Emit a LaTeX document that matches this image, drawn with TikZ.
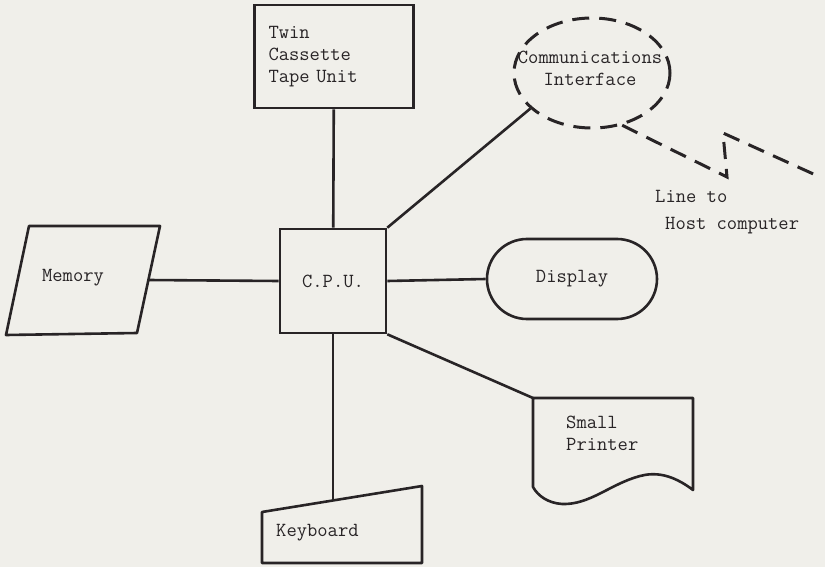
\documentclass[tikz,border=0pt]{standalone}
\usepackage{tikz}
\usetikzlibrary{shapes.geometric}

\definecolor{paper}{RGB}{240,239,234}
\definecolor{ink}{RGB}{40,36,38}

\begin{document}
\begin{tikzpicture}[x=1pt,y=-1pt,
	box/.style={draw=ink, line width=2.6pt, inner sep=0pt},
	lbl/.style={text=ink, inner sep=0pt, align=left, font=\ttfamily\fontsize{20}{22}\selectfont},
	wire/.style={draw=ink, line width=2.6pt, line join=round},
	dashwire/.style={draw=ink, line width=3pt, dash pattern=on 17pt off 10pt}]
	\fill[paper] (0,0) rectangle (825,567);
	\useasboundingbox (0,0) rectangle (825,567);

	% nodes
	\node[box, lbl, minimum width=159pt, minimum height=103pt, text width=131pt] (tape) at (334,56.5) {Twin\\Cassette\\Tape Unit};
	\node[box, lbl, minimum width=106pt, minimum height=104pt] (cpu) at (333,281) {C.P.U.};
	\node[box, lbl, rounded corners=40pt, minimum width=170pt, minimum height=80pt] (disp) at (572,279) {Display};
	\node[dashwire, ellipse, minimum width=156pt, minimum height=110pt] (comm) at (592,73) {};
	\node[lbl, align=center] (commtxt) at (590,68) {Communications\\Interface};
	\node[lbl] (mem) at (73,278) {Memory};
	\node[lbl, anchor=west] (prn) at (566,433) {Small\\Printer};
	\node[lbl, anchor=west] (kbd) at (276,533) {Keyboard};
	\node[lbl, anchor=north west] (host) at (655,190) {Line to\\[5pt]\hspace*{10pt}Host computer};

	% outlines
	\draw[wire] (29,226) -- (160,226) -- (137,333) -- (6,335) -- cycle;
	\draw[wire] (533,398) -- (693,398) -- (693,490) .. controls (672,474) and (655,472) .. (640,476)
		.. controls (610,484) and (590,505) .. (562,504) .. controls (548,503) and (538,496) .. (533,487) -- cycle;
	\draw[wire] (262,512) -- (422,486) -- (422,563) -- (262,563) -- cycle;
	\coordinate (memR) at (148,280);
	\coordinate (prnTL) at (533,398);
	\coordinate (kbdT) at (333,500);
	\coordinate (zzA) at (727,177);
	\coordinate (zzB) at (723,133);
	\coordinate (zzEnd) at (820,177);

	%lines
	\draw[wire] (tape) -- (cpu);
	\draw[wire] (memR) -- (cpu.west);
	\draw[wire] (cpu.east) -- (disp.west);
	\draw[wire] (cpu.north east) -- (comm.210);
	\draw[wire] (cpu.south east) -- (prnTL);
	\draw[wire] (cpu) -- (kbdT);
	\draw[dashwire] (comm.300) -- (zzA) -- (zzB) -- (zzEnd);
\end{tikzpicture}
\end{document}
